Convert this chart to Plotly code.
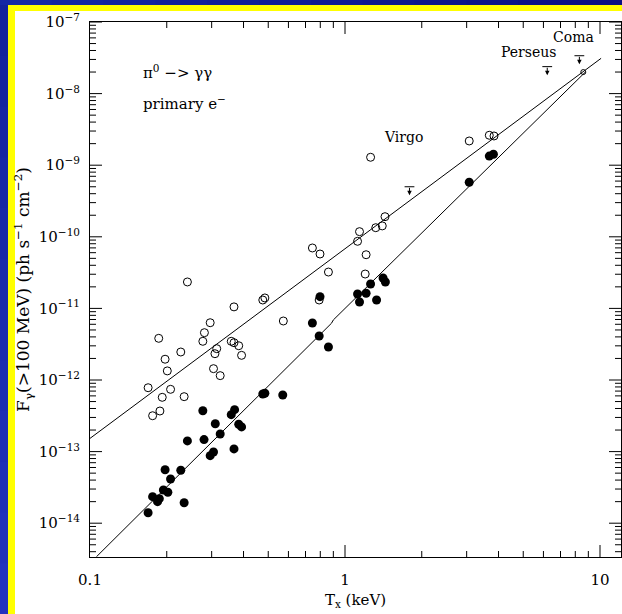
import math
import plotly.graph_objects as go

# Gamma-ray flux above 100 MeV vs X-ray temperature
# open circles: pi0 -> gamma gamma ; filled circles: primary electrons
open_tx = [0.241, 0.186, 0.296, 0.281, 0.277, 0.367, 0.197, 0.201, 0.227, 0.314,
           0.309, 0.305, 0.324, 0.358, 0.367, 0.383, 0.393, 0.169, 0.192, 0.207,
           0.234, 0.188, 0.176, 1.26, 1.435, 1.40, 1.32, 1.14, 1.12, 0.745,
           0.798, 1.21, 0.861, 1.20, 0.476, 0.485, 0.792, 0.573, 3.07, 3.68, 3.84]
open_flux = [2.34e-11, 3.82e-12, 6.31e-12, 4.58e-12, 3.47e-12, 1.05e-11, 1.95e-12, 1.34e-12,
             2.46e-12, 2.74e-12, 2.33e-12, 1.44e-12, 1.15e-12, 3.47e-12, 3.32e-12, 3.01e-12,
             2.21e-12, 7.8e-13, 5.73e-13, 7.41e-13, 5.85e-13, 3.69e-13, 3.17e-13, 1.29e-9,
             1.91e-10, 1.42e-10, 1.34e-10, 1.18e-10, 8.65e-11, 6.98e-11, 5.75e-11, 5.62e-11,
             3.22e-11, 3.02e-11, 1.31e-11, 1.40e-11, 1.31e-11, 6.67e-12, 2.18e-9, 2.62e-9,
             2.56e-9]

filled_tx = [0.277, 0.310, 0.358, 0.369, 0.383, 0.393, 0.324, 0.280, 0.241, 0.305,
             0.296, 0.367, 0.197, 0.227, 0.207, 0.194, 0.202, 0.176, 0.187, 0.184,
             0.234, 0.169, 0.798, 1.26, 1.41, 1.44, 1.12, 1.21, 1.14, 1.33,
             0.745, 0.792, 0.861, 0.476, 0.485, 0.570, 3.07, 3.68, 3.82]
filled_flux = [3.72e-13, 2.45e-13, 3.28e-13, 3.85e-13, 2.41e-13, 2.21e-13, 1.76e-13, 1.47e-13,
               1.41e-13, 9.86e-14, 8.77e-14, 1.09e-13, 5.58e-14, 5.48e-14, 4.14e-14, 2.91e-14,
               2.71e-14, 2.35e-14, 2.20e-14, 2.00e-14, 1.93e-14, 1.40e-14, 1.46e-11, 2.19e-11,
               2.66e-11, 2.34e-11, 1.59e-11, 1.63e-11, 1.23e-11, 1.31e-11, 6.25e-12, 4.12e-12,
               2.89e-12, 6.37e-13, 6.52e-13, 6.18e-13, 5.77e-10, 1.34e-9, 1.42e-9]

# Coma detection point
coma_tx = [8.6]
coma_flux = [2.0e-8]

# upper limits: flux at the bar of each limit symbol
limit_names = ["Virgo", "Perseus", "Coma"]
limit_tx = [1.79, 6.21, 8.3]
limit_flux = [5.0e-10, 2.38e-8, 3.38e-8]

# model relations
pi0_model_tx = [0.1, 10.1]
pi0_model_flux = [1.53e-13, 3.11e-8]
elec_model_tx = [0.106, 0.885, 0.90, 8.75]
elec_model_flux = [3.40e-15, 6.2e-12, 6.9e-12, 1.99e-8]

x_tickvals = [0.1, 1, 10]
x_ticktext = ["0.1", "1", "10"]
y_tickvals = [1e-14, 1e-13, 1e-12, 1e-11, 1e-10, 1e-9, 1e-8, 1e-7]
y_ticktext = ["10<sup>\u221214</sup>", "10<sup>\u221213</sup>", "10<sup>\u221212</sup>",
              "10<sup>\u221211</sup>", "10<sup>\u221210</sup>", "10<sup>\u22129</sup>",
              "10<sup>\u22128</sup>", "10<sup>\u22127</sup>"]

FONT = "DejaVu Serif"
W, H = 622, 614
ML, MR, MT, MB = 90, 1, 22, 57
PW, PH = W - ML - MR, H - MT - MB
X_RANGE = [-1, -1 + PW / 255.0]
Y_RANGE = [-7 - PH / 71.6, -7]
MAJOR_LEN, MINOR_LEN = 12, 6


def px(x):
    return (x - ML) / PW


def py(y):
    return (H - MB - y) / PH


def minor_vals(lo, hi):
    vals = []
    for e in range(math.floor(lo) - 1, math.ceil(hi) + 1):
        for d in range(2, 10):
            v = d * 10.0 ** e
            if lo < math.log10(v) < hi:
                vals.append(v)
    return vals


def frac(v, rng):
    return (math.log10(v) - rng[0]) / (rng[1] - rng[0])


fig = go.Figure()

fig.add_trace(go.Scatter(x=pi0_model_tx, y=pi0_model_flux, mode="lines",
                         line=dict(color="black", width=1), showlegend=False))
fig.add_trace(go.Scatter(x=elec_model_tx, y=elec_model_flux, mode="lines",
                         line=dict(color="black", width=1), showlegend=False))
fig.add_trace(go.Scatter(x=open_tx, y=open_flux, mode="markers",
                         marker=dict(symbol="circle-open", size=8, color="black",
                                     line=dict(width=1)), showlegend=False))
fig.add_trace(go.Scatter(x=filled_tx, y=filled_flux, mode="markers",
                         marker=dict(symbol="circle", size=9, color="black"),
                         showlegend=False))
fig.add_trace(go.Scatter(x=coma_tx, y=coma_flux, mode="markers",
                         marker=dict(symbol="circle-open", size=5, color="black",
                                     line=dict(width=1)), showlegend=False))
fig.add_trace(go.Scatter(x=limit_tx, y=limit_flux, mode="markers",
                         marker=dict(symbol="line-ew-open", size=7, color="black",
                                     line=dict(width=1, color="black")),
                         showlegend=False))

annotations = []
for lx, lf in zip(limit_tx, limit_flux):
    annotations.append(dict(x=math.log10(lx), y=math.log10(lf) - 0.12, xref="x", yref="y",
                            text="", showarrow=True, ax=0, ay=-9, arrowhead=2,
                            arrowsize=0.9, arrowwidth=1, arrowcolor="black"))

label_pos = {"Virgo": (1.69, -8.606), "Perseus": (5.22, -7.42), "Coma": (7.9, -7.21)}
for name in limit_names:
    lx, ly = label_pos[name]
    annotations.append(dict(x=math.log10(lx), y=ly, xref="x", yref="y", text=name,
                            showarrow=False, font=dict(family=FONT, size=14, color="black")))

annotations.append(dict(x=math.log10(0.158), y=-7.70, xref="x", yref="y",
                        text="\u03c0<sup>0</sup> \u2212> \u03b3\u03b3", xanchor="left",
                        showarrow=False, font=dict(family=FONT, size=15, color="black")))
annotations.append(dict(x=math.log10(0.158), y=-8.13, xref="x", yref="y",
                        text="primary e<sup>\u2212</sup>", xanchor="left",
                        showarrow=False, font=dict(family=FONT, size=15, color="black")))

# page frame: blue band with a yellow inner stripe on the left and top
shapes = []
nseg = 12
for i in range(nseg):
    t = i / (nseg - 1)
    r = int(20 + (10 - 20) * t)
    g = int(40 + (16 - 40) * t)
    b = int(165 + (130 - 165) * t)
    shapes.append(dict(type="rect", xref="paper", yref="paper", layer="below",
                       x0=px(W * i / nseg), x1=px(W * (i + 1) / nseg) + 0.002,
                       y0=py(5), y1=py(0), line=dict(width=0),
                       fillcolor=f"rgb({r},{g},{b})"))
for i in range(nseg):
    t = i / (nseg - 1)
    r = int(18 + (35 - 18) * t)
    g = int(35 + (50 - 35) * t)
    b = int(155 + (190 - 155) * t)
    shapes.append(dict(type="rect", xref="paper", yref="paper", layer="below",
                       x0=px(0), x1=px(8),
                       y0=py(5 + (H - 5) * (i + 1) / nseg) - 0.002, y1=py(5 + (H - 5) * i / nseg),
                       line=dict(width=0), fillcolor=f"rgb({r},{g},{b})"))
shapes.append(dict(type="rect", xref="paper", yref="paper", layer="below",
                   x0=px(8), x1=px(W), y0=py(11), y1=py(5), line=dict(width=0),
                   fillcolor="#ffff00"))
shapes.append(dict(type="rect", xref="paper", yref="paper", layer="below",
                   x0=px(8), x1=px(15), y0=py(H), y1=py(5), line=dict(width=0),
                   fillcolor="#ffff00"))

# inside tick marks on all four sides of the frame
tick_line = dict(color="black", width=1)
for vals, ln in ((x_tickvals, MAJOR_LEN), (minor_vals(*X_RANGE), MINOR_LEN)):
    for v in vals:
        f = frac(v, X_RANGE)
        if not 0 < f < 1:
            continue
        h = ln / PH
        shapes.append(dict(type="line", xref="paper", yref="paper", x0=f, x1=f,
                           y0=0, y1=h, line=tick_line))
        shapes.append(dict(type="line", xref="paper", yref="paper", x0=f, x1=f,
                           y0=1 - h, y1=1, line=tick_line))
for vals, ln in ((y_tickvals, MAJOR_LEN), (minor_vals(*Y_RANGE), MINOR_LEN)):
    for v in vals:
        f = frac(v, Y_RANGE)
        if not 0 <= f <= 1:
            continue
        w = ln / PW
        shapes.append(dict(type="line", xref="paper", yref="paper", y0=f, y1=f,
                           x0=0, x1=w, line=tick_line))
        shapes.append(dict(type="line", xref="paper", yref="paper", y0=f, y1=f,
                           x0=1 - w, x1=1, line=tick_line))

axis_base = dict(showline=True, linecolor="black", linewidth=1, mirror=True,
                 ticks="", showgrid=False, zeroline=False,
                 tickfont=dict(family=FONT, size=15, color="black"))

fig.update_layout(
    width=W, height=H,
    margin=dict(l=ML, r=MR, t=MT, b=MB, pad=0),
    paper_bgcolor="white", plot_bgcolor="white",
    showlegend=False,
    xaxis=dict(type="log", range=X_RANGE, tickmode="array", tickvals=x_tickvals,
               ticktext=x_ticktext, ticklabelstandoff=9,
               title=dict(text="T<sub>x</sub> (keV)", font=dict(family=FONT, size=15, color="black"),
                          standoff=6),
               **axis_base),
    yaxis=dict(type="log", range=Y_RANGE, tickmode="array", tickvals=y_tickvals,
               ticktext=y_ticktext, ticklabelstandoff=6,
               title=dict(text="F<sub>\u03b3</sub>(>100 MeV) (ph s<sup>\u22121</sup> cm<sup>\u22122</sup>)",
                          font=dict(family=FONT, size=17, color="black"), standoff=4),
               **axis_base),
    annotations=annotations,
    shapes=shapes,
)

fig.write_html("out.html")
